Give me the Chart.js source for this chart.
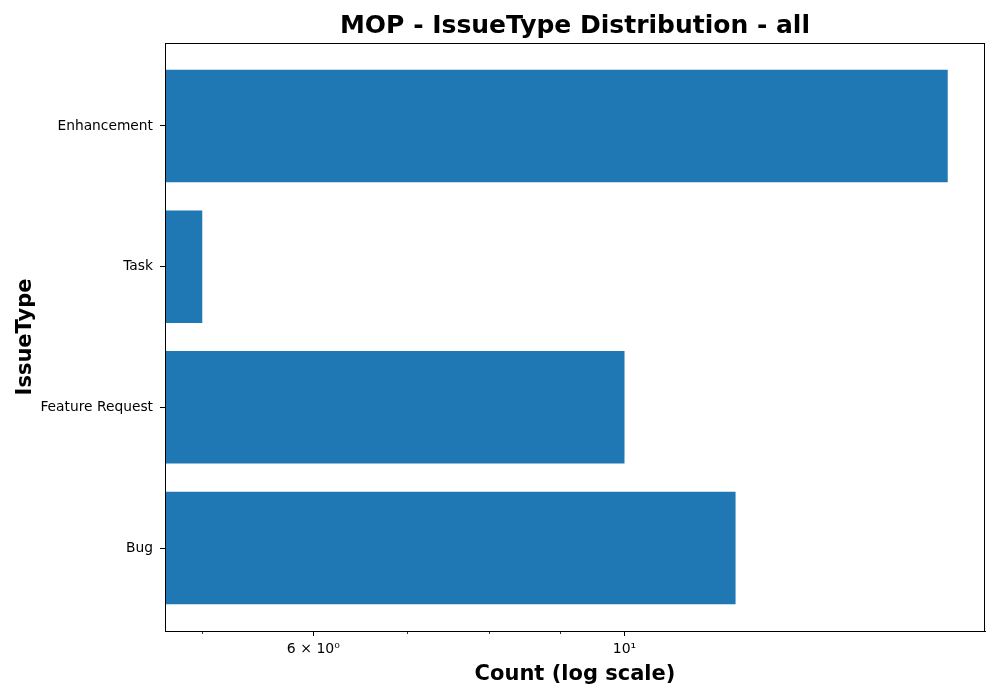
<!DOCTYPE html>
<html><head><meta charset="utf-8">
<script src="https://cdn.jsdelivr.net/npm/chart.js@4.4.0/dist/chart.umd.min.js"></script>
<style>html,body{margin:0;padding:0;background:#fff}#wrap{width:1000px;height:700px}</style>
</head><body><div id="wrap"><canvas id="c" width="1000" height="700"></canvas></div>
<script>
const categories = ['Bug', 'Feature Request', 'Task', 'Enhancement'];
const counts = [12, 10, 5, 17];
const majorTicks = [6, 10];
const majorLabels = ['6 × 10⁰', '10¹'];
const minorTicks = [5, 7, 8, 9];

const lo = Math.log10(Math.min(...counts)), hi = Math.log10(Math.max(...counts));
const m = 0.05 * (hi - lo);
const xMin = Math.pow(10, lo - m), xMax = Math.pow(10, hi + m);
const yMin = -0.4 - 0.19, yMax = categories.length - 1 + 0.4 + 0.19;

const frame = {
  id: 'frame',
  afterDraw(chart) {
    const {ctx, chartArea: a, scales} = chart;
    ctx.save();
    ctx.strokeStyle = '#000';
    ctx.lineWidth = 1;
    ctx.strokeRect(Math.round(a.left) + 0.5, Math.round(a.top) + 0.5, Math.round(a.right - a.left) - 1, Math.round(a.bottom - a.top));
    ctx.lineWidth = 0.8;
    minorTicks.forEach(v => {
      const x = Math.round(scales.x.getPixelForValue(v)) + 0.5;
      ctx.beginPath(); ctx.moveTo(x, a.bottom); ctx.lineTo(x, a.bottom + 3); ctx.stroke();
    });
    ctx.restore();
  }
};

new Chart(document.getElementById('c'), {
  type: 'bar',
  data: {
    datasets: [{
      data: categories.map((c, i) => ({x: counts[i], y: i})),
      backgroundColor: '#1f77b4',
      borderWidth: 0,
      barPercentage: 0.8,
      categoryPercentage: 1.0
    }]
  },
  options: {
    indexAxis: 'y',
    responsive: false,
    animation: false,
    devicePixelRatio: 1,
    layout: {padding: {left: 0, right: 15, top: 0, bottom: 0}},
    plugins: {
      legend: {display: false},
      tooltip: {enabled: false},
      title: {
        display: true,
        text: 'MOP - IssueType Distribution - all',
        color: '#000',
        fullSize: false,
        font: {family: '"DejaVu Sans"', size: 25, weight: 'bold', lineHeight: 1.2},
        padding: {top: 11, bottom: 2}
      }
    },
    scales: {
      x: {
        type: 'logarithmic',
        position: 'bottom',
        min: xMin, max: xMax,
        afterBuildTicks(s) { s.ticks = majorTicks.map(v => ({value: v})); },
        afterFit(s) { s.height = 69; },
        ticks: {
          autoSkip: false, maxRotation: 0, padding: 5,
          color: '#000',
          font: {family: '"DejaVu Sans"', size: 14},
          callback: (v) => majorLabels[majorTicks.indexOf(v)]
        },
        grid: {drawOnChartArea: false, tickLength: 5, color: '#000', tickWidth: 1},
        border: {display: true, color: '#000'},
        title: {
          display: true, text: 'Count (log scale)', color: '#000',
          font: {family: '"DejaVu Sans"', size: 21, weight: 'bold', lineHeight: 1.2},
          padding: {top: 0, bottom: 13}
        }
      },
      y: {
        type: 'linear',
        position: 'left',
        min: yMin, max: yMax,
        offset: false,
        afterBuildTicks(s) { s.ticks = categories.map((c, i) => ({value: i})); },
        afterFit(s) { s.width = 165; },
        ticks: {
          autoSkip: false, padding: 7,
          color: '#000',
          font: {family: '"DejaVu Sans"', size: 13.8},
          callback: (v) => categories[v]
        },
        grid: {drawOnChartArea: false, offset: false, tickLength: 5, color: '#000', tickWidth: 1},
        border: {display: true, color: '#000'},
        title: {
          display: true, text: 'IssueType', color: '#000',
          font: {family: '"DejaVu Sans"', size: 21, weight: 'bold', lineHeight: 1.2},
          padding: {top: 13, bottom: 0}
        }
      }
    }
  },
  plugins: [frame]
});
</script>
</body></html>
